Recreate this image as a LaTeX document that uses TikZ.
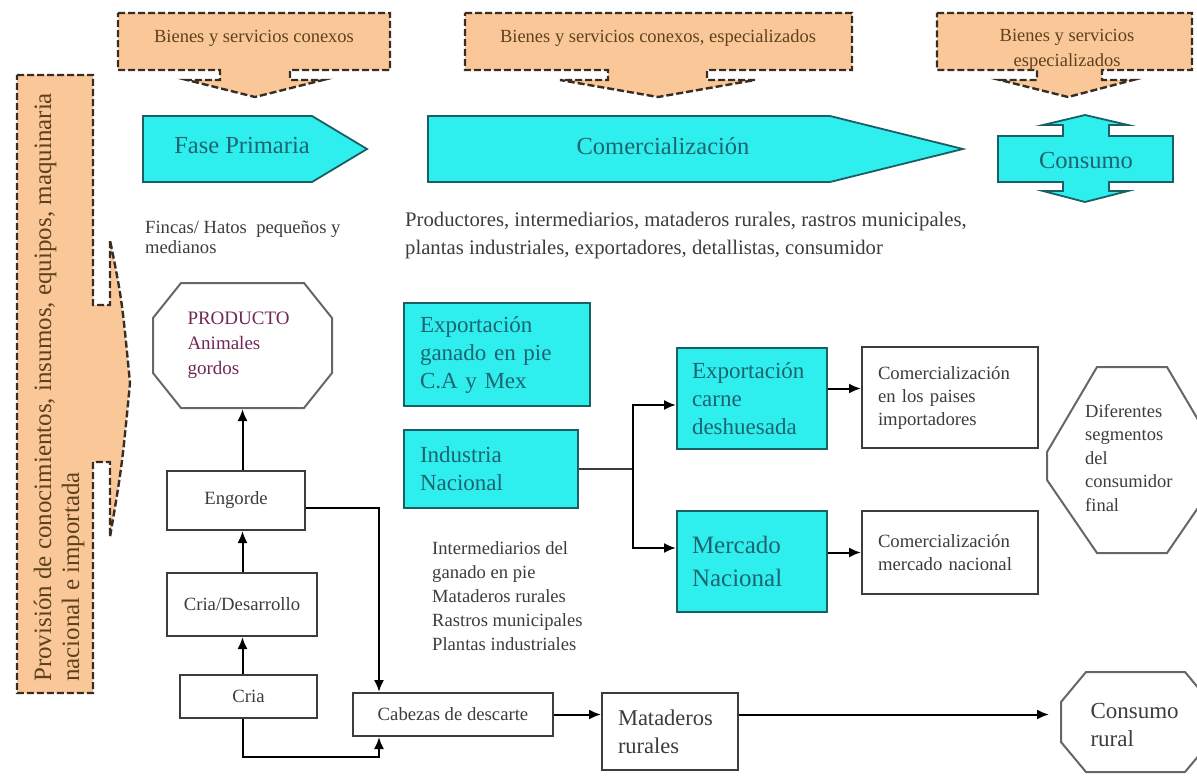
\documentclass[tikz,border=0pt]{standalone}
\usepackage{fontspec}
\setmainfont{Liberation Serif}
\usetikzlibrary{
    arrows.meta,
    calc
}
\definecolor{calloutfill}{RGB}{250,200,152}
\definecolor{calloutline}{RGB}{55,45,35}
\definecolor{callouttext}{RGB}{95,65,30}
\definecolor{cyanfill}{RGB}{46,238,238}
\definecolor{cyanline}{RGB}{25,95,100}
\definecolor{cyantext}{RGB}{30,100,112}
\definecolor{boxline}{RGB}{60,60,60}
\definecolor{boxtext}{RGB}{60,60,60}
\definecolor{prodtext}{RGB}{112,40,85}

\begin{document}
\begin{tikzpicture}[x=1pt, y=-1pt,
    >={Latex[length=12pt,width=10pt]},
    callout/.style={fill=calloutfill, draw=calloutline, dash pattern=on 7pt off 3pt, line width=2.4pt},
    calltext/.style={text=callouttext, align=center, font=\fontsize{18.5}{25}\selectfont},
    phase/.style={fill=cyanfill, draw=cyanline, line width=1.8pt},
    phasetext/.style={text=cyantext, font=\fontsize{24.5}{28}\selectfont},
    cyanbox/.style={rectangle, fill=cyanfill, draw=cyanline, line width=2pt, text=cyantext, align=left, font=\fontsize{23}{28}\selectfont},
    stage/.style={rectangle, draw=boxline, line width=2pt, text=boxtext, font=\fontsize{18.7}{23}\selectfont},
    note/.style={inner sep=0pt, align=left, text=boxtext},
    octo/.style={draw=gray!80!black, line width=2pt},
    flow/.style={->, line width=2pt}
]
\useasboundingbox (0,0) rectangle (1197,776);

% callouts on top
\draw[callout] (118,13) -- (390,13) -- (390,70) -- (290,70) -- (290,80) -- (323,80) -- (255,97)
    -- (187,80) -- (220,80) -- (220,70) -- (118,70) -- cycle;
\node[calltext] (bienes1) at (254,38) {Bienes y servicios conexos};
\draw[callout] (465,13) -- (852,13) -- (852,70) -- (707,70) -- (707,80) -- (755,80) -- (658,97)
    -- (560,80) -- (608,80) -- (608,70) -- (465,70) -- cycle;
\node[calltext] (bienes2) at (658,38) {Bienes y servicios conexos, especializados};
\draw[callout] (937,13) -- (1192,13) -- (1192,70) -- (1102,70) -- (1102,80) -- (1133,80) -- (1068,97)
    -- (1000,80) -- (1037,80) -- (1037,70) -- (937,70) -- cycle;
\node[calltext] (bienes3) at (1067,50) {Bienes y servicios\\especializados};

% left callout
\draw[callout] (17,75) -- (93,75) -- (93,305) -- (110,305) -- (110,240)
    .. controls (122,300) .. (130,383) .. controls (122,466) .. (110,537)
    -- (110,462) -- (93,462) -- (93,693) -- (17,693) -- cycle;
\node[calltext, rotate=90, anchor=west, align=left, font=\fontsize{25}{28}\selectfont, inner sep=0pt]
    (provision) at (59,682) {Provisión de conocimientos, insumos, equipos, maquinaria\\nacional e importada};

% phases
\draw[phase] (143,116) -- (312,116) -- (367,149) -- (312,182) -- (143,182) -- cycle;
\node[phasetext] (fase) at (242,146) {Fase Primaria};
\draw[phase] (428,116) -- (830,116) -- (963,149) -- (830,182) -- (428,182) -- cycle;
\node[phasetext] (comerc) at (663,146) {Comercialización};
\draw[phase] (998,136) -- (1063,136) -- (1063,125) -- (1043,125) -- (1085,115) -- (1128,125)
    -- (1109,125) -- (1109,136) -- (1173,136) -- (1173,182) -- (1109,182) -- (1109,191)
    -- (1128,191) -- (1085,202) -- (1043,191) -- (1063,191) -- (1063,182) -- (998,182) -- cycle;
\node[phasetext] (consumo) at (1086,161) {Consumo};

\node[note, anchor=west, font=\fontsize{18.6}{20}\selectfont] (fincas) at (145,237)
    {Fincas/ Hatos \ pequeños y\\medianos};
\node[note, anchor=west, font=\fontsize{20.7}{28}\selectfont] (actores) at (405,236)
    {Productores, intermediarios, mataderos rurales, rastros municipales,\\plantas industriales, exportadores, detallistas, consumidor};

% primary phase
\draw[octo] (181,283) -- (304,283) -- (332,318) -- (332,373) -- (304,408) -- (181,408) -- (153,373) -- (153,318) -- cycle;
\node[stage, draw=none, minimum width=179pt, minimum height=125pt, text=prodtext, text width=110pt,
    align=left, font=\fontsize{19}{25}\selectfont] (producto) at (242.5,345.5) {PRODUCTO\\Animales\\gordos};
\node[stage, minimum width=138pt, minimum height=59pt] (engorde) at (236,500.5) {Engorde};
\node[stage, minimum width=150pt, minimum height=63pt] (desarrollo) at (242,604.5) {Cria/Desarrollo};
\node[stage, minimum width=137pt, minimum height=43pt] (cria) at (248.5,696.5) {Cria};
\node[stage, minimum width=200pt, minimum height=43pt] (descarte) at (453,714.5) {Cabezas de descarte};
\node[stage, minimum width=136pt, minimum height=77pt, text width=104pt, align=left,
    font=\fontsize{22.5}{28}\selectfont] (mataderos) at (670,731.5) {Mataderos\\rurales};

% commercialisation
\node[cyanbox, minimum width=186pt, minimum height=103pt, text width=154pt] (expganado) at (497,354.5)
    {Exportación\\ganado en pie\\C.A y Mex};
\node[cyanbox, minimum width=174pt, minimum height=78pt, text width=142pt] (industria) at (491,469)
    {Industria\\Nacional};
\node[cyanbox, minimum width=150pt, minimum height=101pt, text width=120pt] (expcarne) at (752,398.5)
    {Exportación\\carne\\deshuesada};
\node[cyanbox, minimum width=150pt, minimum height=101pt, text width=120pt,
    font=\fontsize{25}{33}\selectfont] (mercado) at (752,561.5) {Mercado\\Nacional};
\node[stage, minimum width=176pt, minimum height=101pt, text width=144pt, align=left] (compaises) at (950,397.5)
    {Comercialización\\en los paises\\importadores};
\node[stage, minimum width=176pt, minimum height=83pt, text width=144pt, align=left] (comnacional) at (950,552.5)
    {Comercialización\\mercado nacional};
\node[note, anchor=west, font=\fontsize{18.6}{24}\selectfont] (intermed) at (432,596)
    {Intermediarios del\\ganado en pie\\Mataderos rurales\\Rastros municipales\\Plantas industriales};

% consumption
\draw[octo] (1097,367) -- (1167,367) -- (1217,452) -- (1217,480) -- (1167,553) -- (1097,553) -- (1047,480) -- (1047,452) -- cycle;
\node[note, anchor=west, font=\fontsize{18.5}{23.5}\selectfont] (diferentes) at (1085,458)
    {Diferentes\\segmentos\\del\\consumidor\\final};
\draw[octo] (1086,672) -- (1185,672) -- (1210,702) -- (1210,742) -- (1185,772) -- (1086,772) -- (1061,742) -- (1061,702) -- cycle;
\node[stage, draw=none, minimum width=149pt, minimum height=100pt, text width=90pt, align=left,
    font=\fontsize{23}{28}\selectfont] (rural) at (1135.5,725) {Consumo\\rural};

% connectors
\draw[flow] (cria.north -| producto.south) -- (desarrollo.south -| producto.south);
\draw[flow] (desarrollo.north -| producto.south) -- (engorde.south -| producto.south);
\draw[flow] (engorde.north -| producto.south) -- (producto.south);
\draw[flow] ([yshift=-7pt]engorde.east) -| ([xshift=27pt]descarte.north west);
\draw[flow] (cria.south -| producto.south) -- ++(0,38) -| ([xshift=27pt]descarte.south west);
\draw[flow] (descarte.east) -- (descarte.east -| mataderos.west);
\draw[flow, shorten >=11pt] (descarte.east -| mataderos.east) -- (descarte.east -| rural.west);
\draw[line width=1.6pt, draw=boxline] (industria.east) -- ++(54,0) coordinate (fork);
\draw[flow] (fork) |- ([yshift=-6.5pt]expcarne.west);
\draw[flow] (fork) |- ([yshift=13.5pt]mercado.west);
\draw[flow] ([yshift=10pt]expcarne.east) -- ([yshift=10pt]expcarne.east -| compaises.west);
\draw[flow] (comnacional.west -| mercado.east) -- (comnacional.west);
\end{tikzpicture}
\end{document}
